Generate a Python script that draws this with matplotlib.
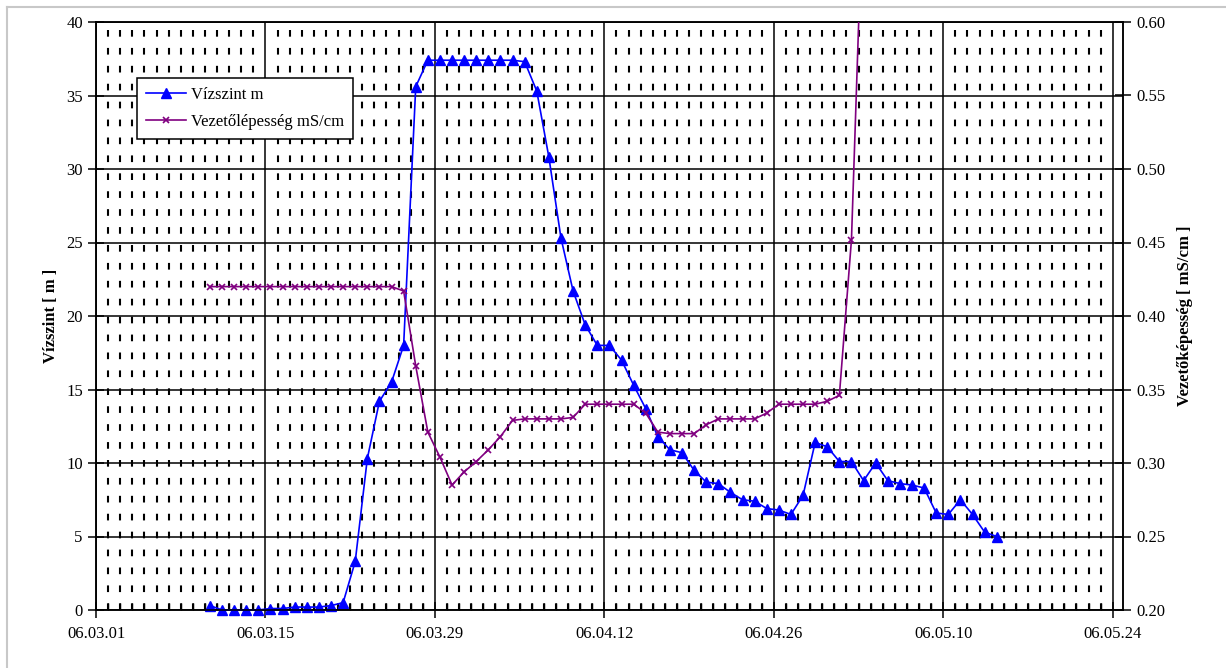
import matplotlib
matplotlib.use("Agg")
import matplotlib.pyplot as plt
import matplotlib.dates as mdates
from matplotlib.lines import Line2D
import datetime as dt

# ---------------- data ----------------
start = dt.datetime(2006, 3, 10, 10, 0)

water_level = [0.3, 0.0, 0.0, 0.0, 0.0, 0.1, 0.1, 0.2, 0.2, 0.2, 0.3, 0.5,
               3.3, 10.3, 14.2, 15.5, 18.0, 35.6,
               37.4, 37.4, 37.4, 37.4, 37.4, 37.4, 37.4, 37.4,
               37.3, 35.3, 30.8, 25.3, 21.7, 19.4, 18.0, 18.0, 17.0, 15.3,
               13.7, 11.8, 10.9, 10.7, 9.5, 8.7, 8.6, 8.0, 7.5, 7.4,
               6.9, 6.8, 6.5, 7.8, 11.4, 11.1, 10.1, 10.1, 8.8, 10.0,
               8.8, 8.6, 8.5, 8.3, 6.6, 6.5, 7.5, 6.5, 5.3, 5.0]

conductivity = [0.42, 0.42, 0.42, 0.42, 0.42, 0.42, 0.42, 0.42,
                0.42, 0.42, 0.42, 0.42, 0.42, 0.42, 0.42, 0.42,
                0.417, 0.366, 0.321, 0.304, 0.285, 0.294, 0.301, 0.309,
                0.318, 0.329, 0.33, 0.33, 0.33, 0.33, 0.331, 0.34,
                0.34, 0.34, 0.34, 0.34, 0.334, 0.321, 0.32, 0.32,
                0.32, 0.326, 0.33, 0.33, 0.33, 0.33, 0.334, 0.34,
                0.34, 0.34, 0.34, 0.342, 0.346, 0.452, 0.70]

wl_dates = [start + dt.timedelta(days=i) for i in range(len(water_level))]
cond_dates = [start + dt.timedelta(days=i) for i in range(len(conductivity))]

x_tick_dates = [dt.datetime(2006, 3, 1), dt.datetime(2006, 3, 15), dt.datetime(2006, 3, 29),
                dt.datetime(2006, 4, 12), dt.datetime(2006, 4, 26), dt.datetime(2006, 5, 10),
                dt.datetime(2006, 5, 24)]
x_tick_labels = ["06.03.01", "06.03.15", "06.03.29", "06.04.12", "06.04.26", "06.05.10", "06.05.24"]
left_ticks = [0, 5, 10, 15, 20, 25, 30, 35, 40]
right_ticks = [0.20, 0.25, 0.30, 0.35, 0.40, 0.45, 0.50, 0.55, 0.60]

label_wl = "Vízszint m"
label_cond = "Vezetőlépesség mS/cm"
ylabel_left = "Vízszint [ m ]"
ylabel_right = "Vezetőképesség [ mS/cm ]"

# ---------------- figure ----------------
SERIF = ["Liberation Serif", "DejaVu Serif"]
plt.rcParams["font.family"] = SERIF

W, H = 1226, 668
fig = plt.figure(figsize=(W / 100, H / 100), dpi=100)

# light gray chart-area border (left and top visible)
fig.add_artist(Line2D([7 / W, 7 / W], [0, 1 - 7 / H], transform=fig.transFigure,
                      color="#c8c8c8", lw=1.5))
fig.add_artist(Line2D([7 / W, 1], [1 - 7 / H, 1 - 7 / H], transform=fig.transFigure,
                      color="#c8c8c8", lw=1.5))

L, R, T, B = 96, 1123, 22, 610
ax = fig.add_axes([L / W, 1 - B / H, (R - L) / W, (B - T) / H])
ax2 = ax.twinx()

x0 = dt.datetime(2006, 3, 1)
x1 = x0 + dt.timedelta(days=84.85)
ax.set_xlim(x0, x1)
ax.set_ylim(0, 40)
ax2.set_ylim(0.20, 0.60)

# grid
ax.set_xticks(x_tick_dates)
ax.set_xticklabels(x_tick_labels)
ax.xaxis.set_minor_locator(mdates.DayLocator())
ax.set_yticks(left_ticks)
ax.set_yticklabels([str(v) for v in left_ticks])
ax2.set_yticks(right_ticks)
ax2.set_yticklabels(["%.2f" % v for v in right_ticks])

ax.grid(which="major", axis="both", color="black", lw=1.1)
ax.grid(which="minor", axis="x", color="black", lw=1.5, dashes=(3.2, 5.4))
ax.set_axisbelow(True)

ax.tick_params(axis="x", which="major", direction="inout", length=11, width=1.1,
               labelsize=12, pad=6)
ax.tick_params(axis="x", which="minor", direction="in", length=5, width=1.0)
ax.tick_params(axis="y", which="major", direction="inout", length=11, width=1.1,
               labelsize=12, pad=4)
ax2.tick_params(axis="y", which="major", direction="inout", length=11, width=1.1,
                labelsize=12, pad=4)
for a in (ax, ax2):
    for s in a.spines.values():
        s.set_color("black")
        s.set_linewidth(1.1)

# series
l1, = ax.plot(wl_dates, water_level, color="#0000ff", lw=1.2, marker="^",
              markersize=6.5, markerfacecolor="#0000ff", markeredgecolor="#0000ff",
              label=label_wl, zorder=3, clip_on=False)
l2, = ax2.plot(cond_dates, conductivity, color="#800080", lw=1.2, marker="x",
               markersize=5, markeredgewidth=1.2, label=label_cond, zorder=3)

ax.set_ylabel(ylabel_left, fontsize=12, fontweight="bold", labelpad=5)
ax2.set_ylabel(ylabel_right, fontsize=12, fontweight="bold", labelpad=8)

leg = ax2.legend(handles=[l1, l2], loc="upper left",
                 bbox_to_anchor=((137 - L) / (R - L), (B - 78) / (B - T)),
                 frameon=True, fancybox=False, edgecolor="black", framealpha=1,
                 prop={"family": SERIF, "size": 12},
                 handlelength=2.4, handletextpad=0.3, borderpad=0.55,
                 labelspacing=0.65, borderaxespad=0)
leg.get_frame().set_linewidth(1.1)

fig.savefig("out.png", dpi=100)
